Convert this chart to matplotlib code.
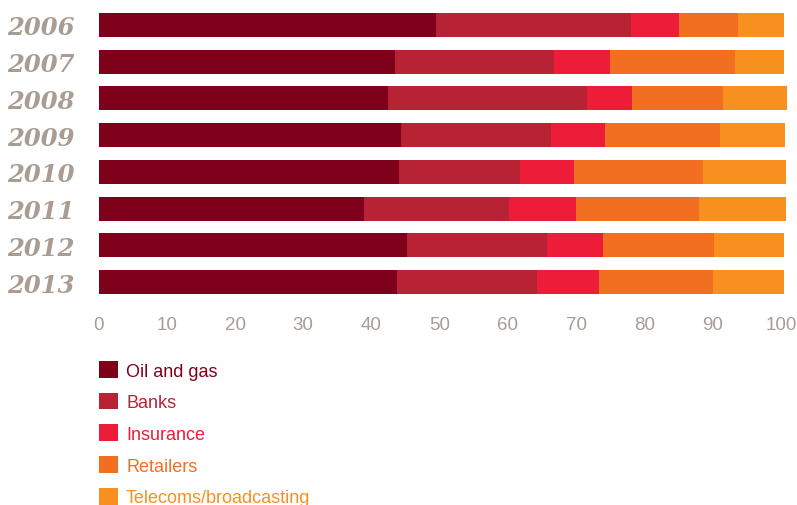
import matplotlib.pyplot as plt
from matplotlib.patches import Patch
import numpy as np

# share of market value by sector, per year (percent)
years = ["2006", "2007", "2008", "2009", "2010", "2011", "2012", "2013"]
sectors = ["Oil and gas", "Banks", "Insurance", "Retailers", "Telecoms/broadcasting"]
oil_gas = [49.4, 43.5, 42.4, 44.3, 44.1, 38.9, 45.2, 43.8]
banks = [28.6, 23.3, 29.2, 22.0, 17.6, 21.3, 20.5, 20.5]
insurance = [7.0, 8.1, 6.6, 7.9, 7.9, 9.8, 8.2, 9.1]
retailers = [8.7, 18.3, 13.3, 16.9, 18.9, 18.0, 16.3, 16.7]
telecoms = [6.7, 7.3, 9.4, 9.5, 12.2, 12.8, 10.3, 10.4]
colors = ["#7f001a", "#b72234", "#ed1c38", "#f26f22", "#f7901f"]
grey = "#a99d93"

W, H = 797, 506
fig = plt.figure(figsize=(W / 100, H / 100), dpi=100)
ax = fig.add_axes([98.5 / W, 1 - 295 / H, (781 - 98.5) / W, (295 - 14) / H])

series = [oil_gas, banks, insurance, retailers, telecoms]
y = np.arange(len(years))
left = np.zeros(len(years))
for vals, col, name in zip(series, colors, sectors):
    ax.barh(y, vals, left=left, height=0.65, color=col, label=name,
            linewidth=0, clip_on=False)
    left += np.array(vals)

ax.set_xlim(0, 100)
ax.set_ylim(len(years) - 1 + 0.325, -0.325)
ax.set_xticks(range(0, 101, 10))
ax.tick_params(axis="x", length=0, pad=16, labelsize=13.5, labelcolor=grey)
ax.set_yticks(y)
ax.set_yticklabels(years, fontfamily="DejaVu Serif", fontweight="bold",
                   fontstyle="italic", fontsize=17.5, color=grey)
ax.tick_params(axis="y", length=0, pad=17)
for lab in ax.get_xticklabels():
    lab.set_fontfamily("Liberation Sans")
for s in ax.spines.values():
    s.set_visible(False)

handles = [Patch(facecolor=c, edgecolor="none") for c in colors]
leg = fig.legend(handles, sectors, loc="upper left",
                 bbox_to_anchor=(99 / W, 1 - 362 / H), frameon=False,
                 prop={"family": "Liberation Sans", "size": 13},
                 handlelength=1.05, handleheight=1.05, handletextpad=0.45,
                 labelspacing=0.73, borderpad=0, borderaxespad=0)
for txt, c in zip(leg.get_texts(), colors):
    txt.set_color(c)

fig.savefig("out.png", dpi=100)
